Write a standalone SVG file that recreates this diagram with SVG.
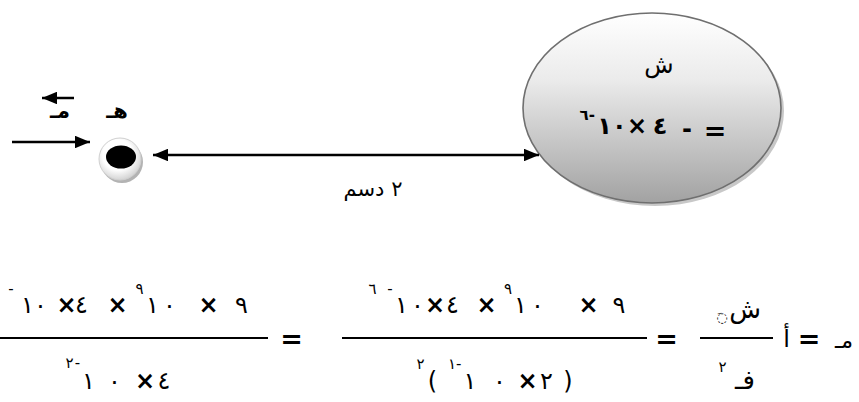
<svg xmlns="http://www.w3.org/2000/svg" width="859" height="402" viewBox="0 0 859 402">
<style>
.t{font-family:"DejaVu Sans","Noto Sans",sans-serif;fill:#000}
.d{font-family:"DejaVu Sans","Noto Sans",sans-serif;fill:#000;unicode-bidi:bidi-override;direction:ltr;text-anchor:middle;font-size:24px}
.sp{font-size:15px}
.b{font-weight:bold}
.x{font-weight:bold}
.eq{font-family:"DejaVu Sans",sans-serif;font-weight:bold;font-size:27px;text-anchor:middle}
.ln{stroke:#000;stroke-width:2.5;fill:none}
.fr{stroke:#000;stroke-width:2.2}
</style>
<defs>
<marker id="ah" viewBox="0 0 12 10" refX="12" refY="5" markerWidth="6" markerHeight="5" orient="auto-start-reverse" markerUnits="strokeWidth">
<path d="M0,0 L12,5 L0,10 z" fill="#000"/>
</marker>
<linearGradient id="eg" x1="0" y1="0" x2="0" y2="1">
<stop offset="0" stop-color="#ffffff"/>
<stop offset="0.35" stop-color="#ebebeb"/>
<stop offset="1" stop-color="#a2a2a2"/>
</linearGradient>
<radialGradient id="dg" cx="0.45" cy="0.4" r="0.6">
<stop offset="0.6" stop-color="#ffffff"/>
<stop offset="1" stop-color="#d4d4d4"/>
</radialGradient>
</defs>

<g id="charge-ellipse">
<ellipse cx="655" cy="111" rx="129" ry="95" fill="#c8c8c8"/>
<ellipse cx="652" cy="108" rx="129" ry="95" fill="url(#eg)" stroke="#6f6f6f" stroke-width="1.6"/>
<text class="t" x="659" y="73" font-size="24" text-anchor="middle">ش</text>
<text class="d b sp" x="595" y="120" style="text-anchor:end">٦-</text>
<text class="d b" y="134" font-size="22"><tspan x="612">١٠</tspan><tspan x="637">×</tspan><tspan x="660">٤</tspan></text>
<text class="d b" x="687" y="137" font-size="22">-</text>
<text class="eq" x="715" y="140">=</text>
</g>

<g id="test-charge">
<circle cx="122" cy="162" r="21" fill="#b3b3b3"/>
<circle cx="120" cy="159" r="21" fill="url(#dg)" stroke="#d0d0d0" stroke-width="1"/>
<ellipse cx="121" cy="157" rx="15" ry="11.5" fill="#000"/>
</g>

<g id="labels">
<text class="t b" x="117" y="118" font-size="21" text-anchor="middle">هـ</text>
<text class="t b" x="60" y="118" font-size="21" text-anchor="middle">مـ</text>
<text class="t" x="373" y="196" font-size="21" text-anchor="middle">٢ دسم</text>
</g>

<g id="connectors">
<line class="ln" x1="74" y1="98" x2="42" y2="98" stroke-width="2.8" marker-end="url(#ah)"/>
<line class="ln" x1="12" y1="142" x2="90" y2="142" marker-end="url(#ah)"/>
<line class="ln" x1="153" y1="155" x2="539" y2="155" marker-start="url(#ah)" marker-end="url(#ah)"/>
</g>

<g id="formula-left">
<text class="d sp" x="11" y="294">-</text>
<text class="d sp" x="139.5" y="294">٩</text>
<text class="d" y="313"><tspan x="34">١٠</tspan><tspan x="66.5" class="x">×</tspan><tspan x="81.5">٤</tspan><tspan x="117.5" class="x">×</tspan></text>
<text class="d" y="313"><tspan x="152.5">١</tspan><tspan x="169.5">٠</tspan><tspan x="208.5" class="x">×</tspan><tspan x="241.5">٩</tspan></text>
<line class="fr" x1="0" y1="338" x2="268" y2="338"/>
<text class="d sp" x="69.5 77.5" y="368">٢-</text>
<text class="d" y="389"><tspan x="88.5">١</tspan><tspan x="114.5">٠</tspan><tspan x="145" class="x">×</tspan><tspan x="164">٤</tspan></text>
<text class="eq" x="291.5" y="348">=</text>
</g>

<g id="formula-middle">
<text class="d sp" x="372.5 390" y="294">٦-</text>
<text class="d sp" x="508" y="294">٩</text>
<text class="d" y="313"><tspan x="401.5">١</tspan><tspan x="417.5">٠</tspan><tspan x="435" class="x">×</tspan><tspan x="452.5">٤</tspan><tspan x="486.5" class="x">×</tspan></text>
<text class="d" y="313"><tspan x="520.5">١</tspan><tspan x="537.5">٠</tspan><tspan x="588.5" class="x">×</tspan><tspan x="619">٩</tspan></text>
<line class="fr" x1="342" y1="338" x2="647" y2="338"/>
<text class="d sp" x="420.5" y="369">٢</text>
<text class="d" x="432.5" y="389">(</text>
<text class="d sp" x="461.5" y="369" style="text-anchor:end">١-</text>
<text class="d" y="389"><tspan x="470">١</tspan><tspan x="499.5">٠</tspan><tspan x="527.5" class="x">×</tspan><tspan x="546.5">٢</tspan><tspan x="568">)</tspan></text>
<text class="eq" x="666.5" y="348">=</text>
</g>

<g id="formula-right">
<text class="t" x="745" y="318" font-size="26" text-anchor="middle">ش</text>
<text class="t" x="722" y="322" font-size="13" fill="#888" text-anchor="middle">◌َ</text>
<line class="fr" x1="700" y1="338" x2="773" y2="338"/>
<text class="d sp" x="722.5" y="372">٢</text>
<text class="t" x="745" y="389" font-size="26" text-anchor="middle">فـ</text>
<text class="t" x="786.5" y="347" font-size="24" text-anchor="middle">أ</text>
<text class="eq" x="809" y="348">=</text>
<text class="t" x="844" y="348" font-size="22" text-anchor="middle">مـ</text>
</g>
</svg>
